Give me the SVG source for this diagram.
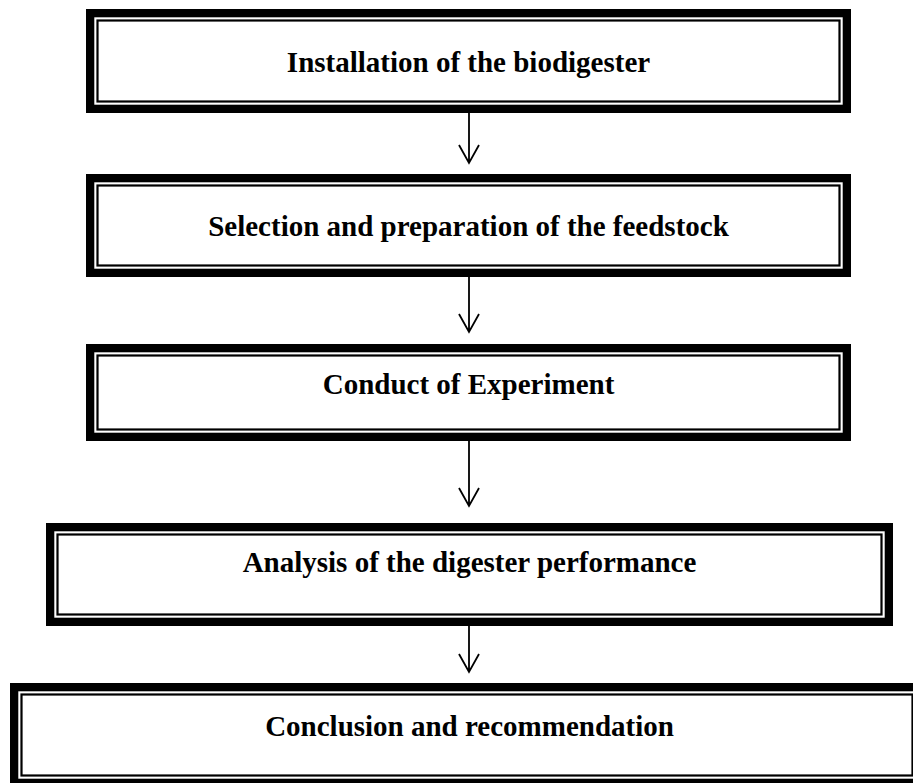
<svg xmlns="http://www.w3.org/2000/svg" width="913" height="783" viewBox="0 0 913 783">
<style>
.outer{fill:#fff;stroke:#000;stroke-width:8.3}
.inner{fill:none;stroke:#000;stroke-width:2.2}
.lbl{font-family:"Liberation Serif","Times New Roman",serif;font-weight:bold;font-size:29px;fill:#000;text-anchor:middle}
.conn{fill:none;stroke:#000;stroke-width:1.8}
</style>
<rect width="913" height="783" fill="#fff"/>
<g id="node1">
<rect class="outer" x="90.15" y="13.15" width="756.7" height="95.7"/>
<rect class="inner" x="97.5" y="20.5" width="742" height="81"/>
<text class="lbl" x="468.5" y="71.5">Installation of the biodigester</text>
</g>
<g id="node2">
<rect class="outer" x="90.15" y="178.15" width="756.7" height="94.7"/>
<rect class="inner" x="97.5" y="185.5" width="742" height="80"/>
<text class="lbl" x="468.5" y="236">Selection and preparation of the feedstock</text>
</g>
<g id="node3">
<rect class="outer" x="90.15" y="348.15" width="756.7" height="88.7"/>
<rect class="inner" x="97.5" y="355.5" width="742" height="74"/>
<text class="lbl" x="468.5" y="394">Conduct of Experiment</text>
</g>
<g id="node4">
<rect class="outer" x="50.15" y="527.15" width="838.7" height="94.7"/>
<rect class="inner" x="57.5" y="534.5" width="824" height="80"/>
<text class="lbl" x="469.5" y="572">Analysis of the digester performance</text>
</g>
<g id="node5">
<rect class="outer" x="14.15" y="687.15" width="905.7" height="95.7"/>
<rect class="inner" x="21.5" y="694.5" width="891" height="81"/>
<text class="lbl" x="469.5" y="736">Conclusion and recommendation</text>
</g>
<g id="connectors">
<path class="conn" d="M469 113V163M459 145L469 163L479 145"/>
<path class="conn" d="M469 277V332M459 314L469 332L479 314"/>
<path class="conn" d="M469 441V506M459 488L469 506L479 488"/>
<path class="conn" d="M469 626V672M459 654L469 672L479 654"/>
</g>
</svg>
